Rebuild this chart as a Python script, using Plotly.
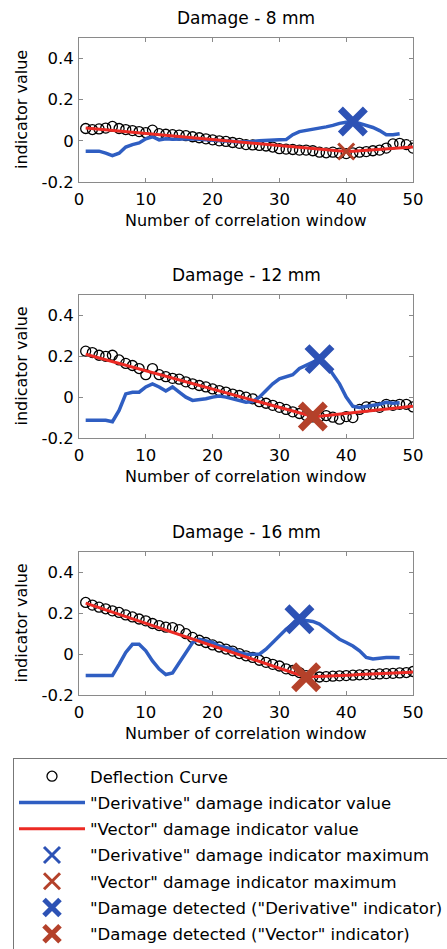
import plotly.graph_objects as go

W, H = 447, 949

# ---------------- data ----------------
windows = list(range(1, 51))
deriv_windows = list(range(1, 49))

titles = ["Damage - 8 mm", "Damage - 12 mm", "Damage - 16 mm"]
x_label = "Number of correlation window"
y_label = "indicator value"
x_tickvals = [0, 10, 20, 30, 40, 50]
x_ticktext = ["0", "10", "20", "30", "40", "50"]
y_tickvals = [-0.2, 0, 0.2, 0.4]
y_ticktext = ["-0.2", "0", "0.2", "0.4"]

# Deflection curve (circles)
deflection_8 = [0.060, 0.055, 0.058, 0.062, 0.070, 0.060, 0.055, 0.050, 0.045, 0.040,
                0.052, 0.035, 0.032, 0.030, 0.028, 0.025, 0.020, 0.015, 0.010, 0.005,
                0.000, -0.003, -0.008, -0.012, -0.018, -0.020, -0.022, -0.025, -0.030, -0.038,
                -0.040, -0.042, -0.045, -0.045, -0.048, -0.055, -0.058, -0.055, -0.060, -0.062,
                -0.058, -0.055, -0.052, -0.048, -0.045, -0.035, -0.015, -0.012, -0.018, -0.035]
deflection_12 = [0.225, 0.218, 0.205, 0.200, 0.205, 0.182, 0.165, 0.155, 0.140, 0.110,
                 0.140, 0.110, 0.100, 0.092, 0.088, 0.075, 0.065, 0.057, 0.050, 0.040,
                 0.032, 0.025, 0.015, 0.008, 0.000, -0.008, -0.022, -0.030, -0.040, -0.050,
                 -0.060, -0.072, -0.080, -0.090, -0.097, -0.095, -0.090, -0.098, -0.108, -0.095,
                 -0.100, -0.060, -0.048, -0.045, -0.050, -0.035, -0.040, -0.035, -0.035, -0.048]
deflection_16 = [0.253, 0.240, 0.230, 0.222, 0.212, 0.204, 0.192, 0.182, 0.172, 0.163,
                 0.150, 0.140, 0.132, 0.130, 0.120, 0.100, 0.082, 0.068, 0.057, 0.045,
                 0.035, 0.025, 0.015, 0.003, -0.008, -0.016, -0.030, -0.040, -0.050, -0.058,
                 -0.072, -0.080, -0.090, -0.105, -0.112, -0.112, -0.110, -0.108, -0.106, -0.105,
                 -0.103, -0.101, -0.100, -0.099, -0.097, -0.095, -0.094, -0.092, -0.090, -0.085]

# "Vector" damage indicator value (red line)
vector_8 = [0.062, 0.059, 0.056, 0.053, 0.050, 0.047, 0.044, 0.042, 0.039, 0.036,
            0.033, 0.030, 0.027, 0.024, 0.021, 0.018, 0.015, 0.012, 0.009, 0.006,
            0.003, 0.000, -0.003, -0.006, -0.009, -0.012, -0.015, -0.018, -0.020, -0.023,
            -0.026, -0.029, -0.032, -0.035, -0.038, -0.041, -0.044, -0.047, -0.050, -0.052,
            -0.050, -0.048, -0.046, -0.043, -0.041, -0.039, -0.037, -0.035, -0.032, -0.030]
vector_12 = [0.210, 0.201, 0.192, 0.183, 0.174, 0.165, 0.156, 0.147, 0.138, 0.129,
             0.120, 0.111, 0.102, 0.093, 0.084, 0.075, 0.066, 0.057, 0.048, 0.039,
             0.030, 0.021, 0.012, 0.003, -0.006, -0.015, -0.024, -0.033, -0.042, -0.051,
             -0.060, -0.069, -0.078, -0.087, -0.095, -0.093, -0.090, -0.086, -0.083, -0.079,
             -0.076, -0.072, -0.069, -0.065, -0.062, -0.058, -0.055, -0.051, -0.048, -0.045]
vector_16 = [0.250, 0.239, 0.228, 0.217, 0.206, 0.195, 0.184, 0.173, 0.162, 0.151,
             0.140, 0.129, 0.118, 0.107, 0.096, 0.085, 0.074, 0.063, 0.052, 0.041,
             0.030, 0.019, 0.008, -0.003, -0.014, -0.025, -0.036, -0.047, -0.058, -0.069,
             -0.080, -0.091, -0.102, -0.113, -0.111, -0.110, -0.108, -0.107, -0.105, -0.104,
             -0.102, -0.100, -0.099, -0.097, -0.096, -0.094, -0.093, -0.091, -0.090, -0.088]

# "Derivative" damage indicator value (blue line)
derivative_8 = [-0.050, -0.050, -0.050, -0.060, -0.072, -0.060, -0.030, -0.018, -0.010, 0.010,
                0.020, 0.005, 0.010, 0.008, 0.010, 0.008, 0.010, 0.008, 0.005, 0.002,
                0.000, -0.002, -0.003, -0.005, -0.005, -0.003, 0.000, 0.003, 0.004, 0.005,
                0.006, 0.030, 0.045, 0.050, 0.055, 0.060, 0.068, 0.075, 0.085, 0.090,
                0.094, 0.085, 0.075, 0.065, 0.050, 0.030, 0.030, 0.035]
derivative_12 = [-0.113, -0.113, -0.113, -0.113, -0.120, -0.065, 0.016, 0.024, 0.024, 0.050,
                 0.065, 0.050, 0.030, 0.050, 0.025, 0.000, -0.016, -0.014, -0.008, 0.000,
                 0.005, 0.000, -0.008, -0.016, -0.025, -0.022, 0.000, 0.032, 0.065, 0.090,
                 0.100, 0.110, 0.140, 0.155, 0.170, 0.186, 0.160, 0.115, 0.065, 0.000,
                 -0.045, -0.050, -0.045, -0.042, -0.035, -0.025, -0.030, -0.028]
derivative_16 = [-0.105, -0.105, -0.105, -0.105, -0.105, -0.050, 0.008, 0.048, 0.048, 0.016,
                 -0.033, -0.073, -0.100, -0.092, -0.040, 0.008, 0.057, 0.073, 0.065, 0.057,
                 0.040, 0.033, 0.025, 0.008, 0.000, 0.000, 0.000, 0.024, 0.057, 0.090,
                 0.122, 0.147, 0.171, 0.165, 0.160, 0.147, 0.122, 0.100, 0.073, 0.057,
                 0.040, 0.016, -0.016, -0.024, -0.018, -0.016, -0.016, -0.018]

# whether each indicator flagged the damage in each case
derivative_detected = [True, True, True]
vector_detected = [False, True, True]

deflections = [deflection_8, deflection_12, deflection_16]
vectors = [vector_8, vector_12, vector_16]
derivatives = [derivative_8, derivative_12, derivative_16]

# ---------------- styling ----------------
FONT = "DejaVu Sans"
BLUE_LINE = "#2f5ec2"
RED_LINE = "#ec2a24"
BLUE_X = "#2d52b5"
RED_X = "#b4412a"
AX_COLOR = "#8a8a8a"

names = {
    "defl": "Deflection Curve",
    "der": "\"Derivative\" damage indicator value",
    "vec": "\"Vector\" damage indicator value",
    "dermax": "\"Derivative\" damage indicator maximum",
    "vecmax": "\"Vector\" damage indicator maximum",
    "derdet": "\"Damage detected (\"Derivative\" indicator)",
    "vecdet": "\"Damage detected (\"Vector\" indicator)",
}
ranks = {"defl": 1, "der": 2, "vec": 3, "dermax": 4, "vecmax": 5, "derdet": 6, "vecdet": 7}

# plot rectangles in pixels (top, bottom)
plot_rows = [(38, 182), (295, 438), (552, 695)]
PX_L, PX_R = 79, 413

fig = go.Figure()
shown = set()


def legend_flag(key):
    if key in shown:
        return False
    shown.add(key)
    return True


for i in range(3):
    xa = "x" if i == 0 else f"x{i+1}"
    ya = "y" if i == 0 else f"y{i+1}"
    defl, vec, der = deflections[i], vectors[i], derivatives[i]

    fig.add_trace(go.Scatter(
        x=windows, y=defl, mode="markers", xaxis=xa, yaxis=ya,
        name=names["defl"], legendgroup="defl", legendrank=ranks["defl"],
        showlegend=legend_flag("defl"),
        marker=dict(symbol="circle-open", size=10, color="black", line=dict(width=1.3, color="black"))))
    fig.add_trace(go.Scatter(
        x=deriv_windows, y=der, mode="lines", xaxis=xa, yaxis=ya,
        name=names["der"], legendgroup="der", legendrank=ranks["der"],
        showlegend=legend_flag("der"),
        line=dict(color=BLUE_LINE, width=3.5)))
    fig.add_trace(go.Scatter(
        x=windows, y=vec, mode="lines", xaxis=xa, yaxis=ya,
        name=names["vec"], legendgroup="vec", legendrank=ranks["vec"],
        showlegend=legend_flag("vec"),
        line=dict(color=RED_LINE, width=3)))

    # maxima taken from the indicator curves
    j_der = max(range(len(der)), key=lambda k: der[k])
    j_vec = min(range(len(vec)), key=lambda k: vec[k])

    fig.add_trace(go.Scatter(
        x=[deriv_windows[j_der]], y=[der[j_der]], mode="markers", xaxis=xa, yaxis=ya,
        name=names["dermax"], legendgroup="dermax", legendrank=ranks["dermax"],
        showlegend=legend_flag("dermax"),
        marker=dict(symbol="x-thin", size=16, color=BLUE_X, line=dict(width=3, color=BLUE_X))))
    fig.add_trace(go.Scatter(
        x=[windows[j_vec]], y=[vec[j_vec]], mode="markers", xaxis=xa, yaxis=ya,
        name=names["vecmax"], legendgroup="vecmax", legendrank=ranks["vecmax"],
        showlegend=legend_flag("vecmax"),
        marker=dict(symbol="x-thin", size=16, color=RED_X, line=dict(width=3, color=RED_X))))
    if derivative_detected[i]:
        fig.add_trace(go.Scatter(
            x=[deriv_windows[j_der]], y=[der[j_der]], mode="markers", xaxis=xa, yaxis=ya,
            name=names["derdet"], legendgroup="derdet", legendrank=ranks["derdet"],
            showlegend=legend_flag("derdet"),
            marker=dict(symbol="x-thin", size=25, color=BLUE_X, line=dict(width=7, color=BLUE_X))))
    if vector_detected[i]:
        fig.add_trace(go.Scatter(
            x=[windows[j_vec]], y=[vec[j_vec]], mode="markers", xaxis=xa, yaxis=ya,
            name=names["vecdet"], legendgroup="vecdet", legendrank=ranks["vecdet"],
            showlegend=legend_flag("vecdet"),
            marker=dict(symbol="x-thin", size=25, color=RED_X, line=dict(width=7, color=RED_X))))

layout_axes = {}
annotations = []
for i, (top, bot) in enumerate(plot_rows):
    xk = "xaxis" if i == 0 else f"xaxis{i+1}"
    yk = "yaxis" if i == 0 else f"yaxis{i+1}"
    ya = "y" if i == 0 else f"y{i+1}"
    xa = "x" if i == 0 else f"x{i+1}"
    layout_axes[xk] = dict(
        domain=[PX_L / W, PX_R / W], anchor=ya, range=[0, 50],
        tickvals=x_tickvals, ticktext=x_ticktext,
        showline=True, mirror="ticks", linecolor=AX_COLOR, linewidth=1,
        ticks="inside", ticklen=4, tickcolor=AX_COLOR, ticklabelstandoff=2,
        showgrid=False, zeroline=False, automargin=False,
        tickfont=dict(family=FONT, size=16.5, color="black"))
    layout_axes[yk] = dict(
        domain=[1 - bot / H, 1 - top / H], anchor=xa, range=[-0.2, 0.5],
        tickvals=y_tickvals, ticktext=y_ticktext,
        showline=True, mirror="ticks", linecolor=AX_COLOR, linewidth=1,
        ticks="inside", ticklen=4, tickcolor=AX_COLOR, ticklabelstandoff=1,
        showgrid=False, zeroline=False, automargin=False,
        tickfont=dict(family=FONT, size=16.5, color="black"))
    cx = (PX_L + PX_R) / 2 / W
    annotations.append(dict(text=titles[i], x=cx, y=1 - (top - 20) / H, xref="paper", yref="paper",
                            showarrow=False, xanchor="center", yanchor="middle",
                            font=dict(family=FONT, size=17, color="black")))
    annotations.append(dict(text=x_label, x=cx, y=1 - (bot + 38) / H, xref="paper", yref="paper",
                            showarrow=False, xanchor="center", yanchor="middle",
                            font=dict(family=FONT, size=16, color="black")))
    annotations.append(dict(text=y_label, x=21 / W, y=1 - (top + bot) / 2 / H, xref="paper", yref="paper",
                            showarrow=False, xanchor="center", yanchor="middle", textangle=-90,
                            font=dict(family=FONT, size=16, color="black")))

fig.update_layout(
    width=W, height=H,
    margin=dict(l=0, r=0, t=0, b=0, autoexpand=False),
    paper_bgcolor="white", plot_bgcolor="white",
    annotations=annotations,
    legend=dict(
        x=13 / W, y=1 - 758 / H, xanchor="left", yanchor="top",
        bordercolor="#777777", borderwidth=1, bgcolor="white",
        font=dict(family=FONT, size=16.5, color="black"),
        itemwidth=66, tracegroupgap=1.8, traceorder="grouped",
        itemclick=False, itemdoubleclick=False),
    **layout_axes,
)

fig.write_html("out.html", config={"displayModeBar": False},
               post_script="document.body.style.margin='0';")
